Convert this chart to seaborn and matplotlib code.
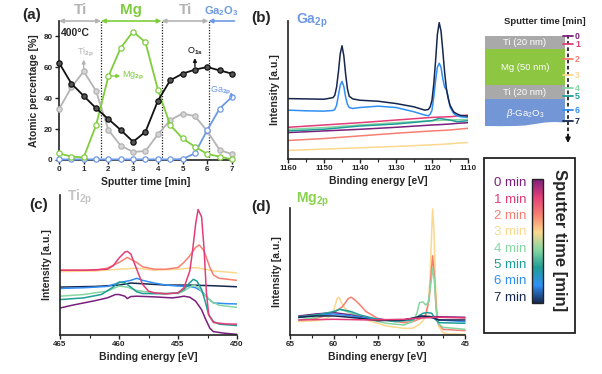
import numpy as np
import pandas as pd
import matplotlib
matplotlib.use('Agg')
import matplotlib.pyplot as plt
import seaborn as sns
from matplotlib.patches import Rectangle, Polygon
from matplotlib.colors import LinearSegmentedColormap, Normalize
import matplotlib.cm as cm
from matplotlib.ticker import MultipleLocator

sns.set_theme(style='white')
plt.rcParams['font.family'] = ['Liberation Sans', 'DejaVu Sans']
plt.rcParams['mathtext.fontset'] = 'custom'
plt.rcParams['mathtext.rm'] = 'Liberation Sans'
plt.rcParams['mathtext.bf'] = 'Liberation Sans:bold'
plt.rcParams['mathtext.it'] = 'Liberation Sans:italic'
plt.rcParams['mathtext.default'] = 'bf'

# ---------------- data: panel (a) depth profile ----------------
sputter_t = [0, 0.5, 1, 1.5, 2, 2.5, 3, 3.5, 4, 4.5, 5, 5.5, 6, 6.5, 7]
o1s_pct = [63, 49.5, 41.5, 33.5, 26.5, 19.4, 11.8, 18.3, 38.3, 51.6, 55.9, 58.5, 60.2, 58, 55.9]
ti2p_pct = [32.9, 47, 57.4, 44.7, 19.4, 9.2, 5.2, 5.8, 16.6, 25.8, 30.1, 28.4, 18.7, 6.5, 3.7]
mg2p_pct = [4.3, 2.2, 1.7, 22.6, 54.2, 72.7, 83.2, 76.1, 45.6, 22.6, 14, 8.6, 3.9, 2.2, 0.4]
ga2p_pct = [0.4, 0.4, 0.4, 0.4, 0.4, 0.4, 0.4, 0.4, 0.4, 0.4, 0.6, 4.3, 19.4, 33.3, 40.9]
layer_bounds = [0, 1.7, 4.15, 6.05]
layer_names = ['Ti', 'Mg', 'Ti']

# ---------------- data: sputter times / legend ----------------
times = ['0 min', '1 min', '2 min', '3 min', '4 min', '5 min', '6 min', '7 min']
time_colors = ['#7b1f7d', '#e23d78', '#f77f72', '#fbd88e', '#86d6a2', '#1f9d96', '#2f8ff5', '#16274f']
PALETTE = dict(zip(times, time_colors))

# ---------------- data: panel (b) Ga 2p ----------------
ga_e7 = [1160, 1155, 1150, 1147.5, 1147, 1146.5, 1146, 1145.5, 1145, 1144.5, 1144, 1143.5, 1143, 1142, 1140,
         1135, 1130, 1125, 1122, 1121, 1120.5, 1120, 1119.5, 1119, 1118.5, 1118, 1117.5, 1117, 1116.5, 1116,
         1115.5, 1115, 1114, 1113, 1112, 1110]
ga_i7 = [183, 182, 181, 186, 193, 218, 263, 318, 343, 313, 258, 213, 190, 182, 178,
         175, 168, 158, 148, 150, 158, 178, 228, 298, 378, 413, 388, 328, 263, 213,
         183, 163, 143, 136, 132, 130]
ga_e6 = [1160, 1155, 1150, 1147.5, 1147, 1146.5, 1146, 1145.5, 1145, 1144.5, 1144, 1143.5, 1143, 1142, 1140,
         1135, 1130, 1125, 1122, 1121, 1120.5, 1120, 1119.5, 1119, 1118.5, 1118, 1117.5, 1117, 1116.5, 1116,
         1115.5, 1115, 1114, 1113, 1112, 1110]
ga_i6 = [148, 146, 145, 147, 150, 163, 193, 223, 235, 220, 188, 166, 156, 153, 156,
         160, 156, 143, 133, 131, 136, 148, 188, 238, 278, 290, 278, 243, 218, 210,
         188, 158, 138, 130, 128, 126]
ga_e_flat = [1160, 1150, 1140, 1130, 1120, 1118, 1115, 1113, 1110]
ga_i0 = [80, 85, 90, 96, 103, 104, 106, 108, 110]
ga_i1 = [96, 103, 110, 118, 126, 127, 128, 130, 133]
ga_i2 = [56, 62, 70, 78, 85, 86, 88, 90, 93]
ga_i3 = [26, 30, 34, 38, 43, 44, 46, 48, 50]
ga_i4 = [90, 95, 103, 110, 116, 117, 118, 119, 120]
ga_i5 = [85, 90, 100, 106, 116, 123, 118, 113, 116]

# ---------------- data: panel (c) Ti 2p ----------------
ti_e0 = [465, 464, 462, 461, 460.3, 460, 459.5, 459.3, 459, 458.5, 457, 455.5, 455, 454.5, 454, 453.5, 453,
         452.7, 452.3, 452, 451, 450]
ti_i0 = [80, 88, 102, 110, 120, 120, 115, 108, 114, 115, 113, 110, 112, 115, 112, 100, 75, 50, 20, 10, 5, 2]
ti_e1 = [465, 463, 461, 460.5, 460, 459.5, 459.3, 459, 458.5, 458, 457.5, 457, 456, 455, 454.5, 454, 453.8,
         453.5, 453.3, 453, 452.8, 452.6, 452.4, 452, 451, 450]
ti_i1 = [192, 192, 195, 205, 228, 246, 248, 240, 195, 150, 130, 125, 122, 125, 140, 190, 240,
         330, 372, 350, 260, 130, 60, 37, 33, 32]
ti_e2 = [465, 462, 461, 460, 459.3, 458.5, 458, 457, 456, 455, 454.5, 454, 453.5, 453.2, 452.8, 452.3, 452,
         451.5, 450]
ti_i2 = [192, 192, 198, 215, 230, 215, 202, 195, 195, 200, 215, 235, 260, 267, 250, 200, 178, 168, 162]
ti_e3 = [465, 462, 460, 458.5, 457, 455, 453.5, 452, 450]
ti_i3 = [188, 190, 195, 198, 192, 195, 200, 190, 184]
ti_e4 = [465, 463, 461, 460, 459.3, 458.5, 457, 455, 454.5, 454, 453.7, 453.3, 452.8, 452.2, 451.5, 450]
ti_i4 = [115, 120, 130, 145, 142, 132, 125, 123, 130, 142, 148, 142, 120, 100, 88, 82]
ti_e5 = [465, 463, 461.5, 460.5, 460, 459.5, 459, 458.5, 458, 456, 455, 454.5, 454, 453.7, 453.4, 453,
         452.7, 452.4, 452, 451.5, 450]
ti_i5 = [105, 110, 120, 142, 157, 155, 142, 128, 123, 122, 125, 135, 155, 165, 160, 135,
         100, 60, 40, 32, 28]
ti_e6 = [465, 463, 461, 460, 459, 458.5, 458, 457, 456, 455, 454, 453.5, 453, 452.5, 452, 451, 450]
ti_i6 = [138, 140, 144, 155, 162, 168, 162, 154, 148, 145, 144, 140, 130, 110, 95, 93, 92]
ti_e7 = [465, 462, 460, 459, 458, 456, 454, 452, 450]
ti_i7 = [142, 144, 148, 154, 152, 148, 148, 146, 143]

# ---------------- data: panel (d) Mg 2p ----------------
mg_e0 = [64, 62, 60, 58, 56, 54, 52, 50, 48.5, 45]
mg_i0 = [57, 63, 67, 60, 50, 45, 45, 55, 55, 53]
mg_e1 = [64, 60, 56, 52, 50, 48, 45]
mg_i1 = [45, 47, 45, 47, 51, 53, 51]
mg_e2 = [64, 62, 61, 60, 59, 58.3, 58, 57.5, 57, 56.3, 55, 54, 52, 51, 50, 49.5, 49.1, 48.9, 48.7, 48.5,
         48.3, 48.1, 47.5, 45]
mg_i2 = [45, 50, 57, 67, 85, 110, 113, 103, 90, 70, 50, 45, 37, 40, 50, 60, 105, 175, 237, 175,
         85, 35, 17, 13]
mg_e3 = [64, 62, 61, 60.5, 60, 59.6, 59.4, 59.1, 58.7, 58, 57, 56, 54, 52, 51, 50.5, 50, 49.5, 49.2, 49,
         48.8, 48.7, 48.55, 48.4, 48.2, 48, 47.5, 47, 45]
mg_i3 = [40, 43, 47, 55, 75, 110, 113, 95, 80, 65, 53, 43, 27, 20, 20, 27, 37, 55, 95, 165,
         315, 377, 315, 165, 65, 25, 7, 3, 2]
mg_e4 = [64, 62, 61, 60, 59.3, 58.5, 57.5, 56, 54, 52, 51, 50.5, 50.2, 49.8, 49.5, 49.2, 49, 48.8, 48.7,
         48.5, 48.3, 48.1, 47.5, 45]
mg_i4 = [45, 53, 60, 70, 77, 70, 60, 47, 35, 30, 40, 65, 97, 99, 90, 97, 135, 175, 200,
         165, 75, 35, 23, 17]
mg_e5 = [64, 62, 60, 59.3, 58, 57, 55, 53, 51, 50.3, 49.8, 49.3, 48.8, 48.4, 48, 45]
mg_i5 = [55, 60, 70, 77, 70, 60, 47, 40, 45, 57, 65, 67, 65, 47, 37, 35]
mg_e6 = [64, 62, 60, 58, 56, 54, 52, 50, 49, 48, 45]
mg_i6 = [52, 60, 63, 57, 49, 45, 45, 55, 53, 45, 40]
mg_e7 = [64, 62, 60, 59, 57, 55, 52, 50.5, 50, 49, 48, 45]
mg_i7 = [53, 57, 57, 55, 50, 43, 45, 53, 57, 55, 45, 45]

# ---------------- colours ----------------
C_GRAY = '#b4b4b4'
C_GREEN = '#7fcd3e'
C_BLUE = '#6d99e6'
C_BLACK = '#111111'
SPINE = '#222222'

W, H = 602, 374
fig = plt.figure(figsize=(W / 100, H / 100), dpi=100)


def rect(x0, y0, x1, y1):
    return [x0 / W, 1 - y1 / H, (x1 - x0) / W, (y1 - y0) / H]


# overlay in pixel coordinates for schematic / legend box / titles (drawn on top)
ov = fig.add_axes([0, 0, 1, 1])
ov.set_xlim(0, W)
ov.set_ylim(H, 0)
ov.axis('off')
ov.set_zorder(10)


def style_axes(ax, labelsize=5.8):
    ax.patch.set_alpha(0)
    for s in ['top', 'right']:
        ax.spines[s].set_visible(False)
    for s in ['left', 'bottom']:
        ax.spines[s].set_color(SPINE)
        ax.spines[s].set_linewidth(1.2)
    ax.tick_params(axis='both', which='major', direction='out', length=3, width=1,
                   color=SPINE, labelsize=labelsize, pad=1.5, bottom=True, left=True)
    for lab in ax.get_xticklabels() + ax.get_yticklabels():
        lab.set_fontweight('bold')


# ================= panel (a) =================
axA = fig.add_axes(rect(59, 21, 232, 160))
line_kw = dict(lw=1.3, marker='o', markersize=3.8, markeredgewidth=0.9, clip_on=False)
sns.lineplot(x=sputter_t, y=ti2p_pct, ax=axA, color=C_GRAY, markeredgecolor=C_GRAY,
             markerfacecolor='#d6d6d6', zorder=3, **line_kw)
sns.lineplot(x=sputter_t, y=ga2p_pct, ax=axA, color=C_BLUE, markeredgecolor=C_BLUE,
             markerfacecolor='white', zorder=3, **line_kw)
sns.lineplot(x=sputter_t, y=mg2p_pct, ax=axA, color=C_GREEN, markeredgecolor=C_GREEN,
             markerfacecolor='white', zorder=4, **line_kw)
sns.lineplot(x=sputter_t, y=o1s_pct, ax=axA, color=C_BLACK, markeredgecolor=C_BLACK,
             markerfacecolor='#555555', zorder=5, **line_kw)
axA.set_xlim(0, 7)
axA.set_ylim(0, 90)
axA.set_xticks(range(8))
axA.set_yticks([0, 20, 40, 60, 80])
style_axes(axA)
axA.set_xlabel('Sputter time [min]', fontsize=7.5, fontweight='bold', labelpad=3)
axA.set_ylabel('Atomic percentage [%]', fontsize=7.5, fontweight='bold', labelpad=3)

for xb in layer_bounds[1:]:
    axA.axvline(xb, ls=(0, (1, 1.2)), color='#222222', lw=0.9, zorder=1)

arrow_cols = [C_GRAY, C_GREEN, C_GRAY]
for k in range(3):
    axA.annotate('', xy=(layer_bounds[k + 1], 90), xytext=(layer_bounds[k], 90),
                 arrowprops=dict(arrowstyle='<|-|>', color=arrow_cols[k], lw=1.2,
                                 mutation_scale=6, shrinkA=0, shrinkB=0),
                 annotation_clip=False)
    axA.text((layer_bounds[k] + layer_bounds[k + 1]) / 2 + (0.02 if k != 1 else 0), 96.8,
             layer_names[k], color=arrow_cols[k], fontsize=11, fontweight='bold',
             ha='center', va='center', clip_on=False)
axA.annotate('', xy=(6.05, 90), xytext=(7.1, 90),
             arrowprops=dict(arrowstyle='-|>', color=C_BLUE, lw=1.2, mutation_scale=6,
                             shrinkA=0, shrinkB=0), annotation_clip=False)
axA.text(6.55, 96.3, r'Ga$_2$O$_3$', color=C_BLUE, fontsize=8, fontweight='bold',
         ha='center', va='center', clip_on=False)

axA.text(0.08, 82, '400°C', fontsize=7.5, fontweight='bold', ha='left', va='center')
# series annotations
axA.annotate('', xy=(1.0, 65), xytext=(1.0, 59),
             arrowprops=dict(arrowstyle='-|>', color=C_GRAY, lw=1, mutation_scale=5, shrinkA=0, shrinkB=0))
axA.text(1.05, 69.5, r'Ti$_{2p}$', color=C_GRAY, fontsize=6.5, ha='center', va='center')
axA.annotate('', xy=(2.48, 54.4), xytext=(2.1, 54.4),
             arrowprops=dict(arrowstyle='-|>', color=C_GREEN, lw=1, mutation_scale=5, shrinkA=0, shrinkB=0))
axA.text(2.55, 54.4, r'Mg$_{2p}$', color=C_GREEN, fontsize=6.5, ha='left', va='center')
axA.annotate('', xy=(5.5, 66), xytext=(5.5, 60.5),
             arrowprops=dict(arrowstyle='-|>', color=C_BLACK, lw=1, mutation_scale=5, shrinkA=0, shrinkB=0))
axA.text(5.5, 70.2, r'O$_{1s}$', color=C_BLACK, fontsize=6.5, ha='center', va='center')
axA.text(6.55, 45, r'Ga$_{2p}$', color=C_BLUE, fontsize=6.5, ha='center', va='center')
axA.annotate('', xy=(6.97, 44), xytext=(6.97, 40),
             arrowprops=dict(arrowstyle='-|>', color=C_BLUE, lw=1, mutation_scale=4, shrinkA=0, shrinkB=0),
             annotation_clip=False)


# ================= spectra helper =================
def draw_spectra(ax, curves, order, xlim, ylim, major, minor):
    frames = []
    for t in order:
        e, inten = curves[t]
        frames.append(pd.DataFrame({'E': e, 'I': inten, 't': t}))
    df = pd.concat(frames, ignore_index=True)
    sns.lineplot(data=df, x='E', y='I', hue='t', hue_order=order, palette=PALETTE,
                 estimator=None, sort=True, legend=False, lw=1.1, ax=ax)
    ax.set_xlim(*xlim)
    ax.set_ylim(*ylim)
    ax.xaxis.set_major_locator(MultipleLocator(major))
    ax.xaxis.set_minor_locator(MultipleLocator(minor))
    ax.set_yticks([])
    style_axes(ax)
    ax.tick_params(axis='x', which='minor', direction='out', length=2, width=0.8, color=SPINE, bottom=True)
    ax.set_xlabel('Binding energy [eV]', fontsize=7.5, fontweight='bold', labelpad=3)
    ax.set_ylabel('Intensity [a.u.]', fontsize=7.5, fontweight='bold', labelpad=6)


# ================= panel (b) =================
axB = fig.add_axes(rect(288, 21, 468, 159))
curvesB = {
    '0 min': (ga_e_flat, ga_i0), '1 min': (ga_e_flat, ga_i1), '2 min': (ga_e_flat, ga_i2),
    '3 min': (ga_e_flat, ga_i3), '4 min': (ga_e_flat, ga_i4), '5 min': (ga_e_flat, ga_i5),
    '6 min': (ga_e6, ga_i6), '7 min': (ga_e7, ga_i7),
}
draw_spectra(axB, curvesB, ['3 min', '2 min', '0 min', '4 min', '5 min', '1 min', '6 min', '7 min'],
             (1160, 1110), (0, 418), 10, 5)

# ================= panel (c) =================
axC = fig.add_axes(rect(60, 195, 237, 335))
curvesC = {
    '0 min': (ti_e0, ti_i0), '1 min': (ti_e1, ti_i1), '2 min': (ti_e2, ti_i2), '3 min': (ti_e3, ti_i3),
    '4 min': (ti_e4, ti_i4), '5 min': (ti_e5, ti_i5), '6 min': (ti_e6, ti_i6), '7 min': (ti_e7, ti_i7),
}
draw_spectra(axC, curvesC, ['3 min', '2 min', '7 min', '6 min', '4 min', '0 min', '5 min', '1 min'],
             (465, 450), (0, 415), 5, 2.5)

# ================= panel (d) =================
axD = fig.add_axes(rect(290, 208, 465, 335))
curvesD = {
    '0 min': (mg_e0, mg_i0), '1 min': (mg_e1, mg_i1), '2 min': (mg_e2, mg_i2), '3 min': (mg_e3, mg_i3),
    '4 min': (mg_e4, mg_i4), '5 min': (mg_e5, mg_i5), '6 min': (mg_e6, mg_i6), '7 min': (mg_e7, mg_i7),
}
draw_spectra(axD, curvesD, ['3 min', '2 min', '4 min', '0 min', '6 min', '5 min', '7 min', '1 min'],
             (65, 45), (0, 380), 5, 2.5)
for ln in axD.lines:
    ln.set_clip_on(False)

# ================= panel labels and titles =================
for lab, (px, py) in {'(a)': (32, 15), '(b)': (261, 18), '(c)': (39, 205), '(d)': (261, 207)}.items():
    ov.text(px, py, lab, fontsize=11, fontweight='bold', ha='center', va='center')
ov.text(312, 21, r'Ga$_{2p}$', color=C_BLUE, fontsize=10, fontweight='bold', ha='center', va='center')
ov.text(80, 197, r'Ti$_{2p}$', color='#c4c4c4', fontsize=10, fontweight='bold', ha='center', va='center')
ov.text(313, 200, r'Mg$_{2p}$', color='#8ad24e', fontsize=10, fontweight='bold', ha='center', va='center')

# ================= schematic =================
ov.text(545, 21, 'Sputter time [min]', fontsize=6.8, fontweight='bold', ha='center', va='center')
ov.add_patch(Rectangle((485, 36), 80, 13, facecolor='#a9a9a9', edgecolor='none'))
ov.add_patch(Rectangle((485, 49), 80, 36, facecolor='#8dc641', edgecolor='none'))
ov.add_patch(Rectangle((485, 85), 80, 14, facecolor='#a9a9a9', edgecolor='none'))
ov.add_patch(Polygon([(485, 99), (565, 99), (565, 122.5), (555, 122), (545, 122.5), (535, 124),
                      (525, 125.5), (515, 126), (500, 126.2), (485, 126)],
                     closed=True, facecolor='#7397d6', edgecolor='none'))
ov.text(525, 42.5, 'Ti (20 nm)', color='white', fontsize=6.8, ha='center', va='center')
ov.text(525, 67, 'Mg (50 nm)', color='white', fontsize=6.8, ha='center', va='center')
ov.text(525, 92, 'Ti (20 nm)', color='white', fontsize=6.8, ha='center', va='center')
ov.text(525, 113, r'$\mathit{\beta}$-Ga$_\mathrm{2}$O$_\mathrm{3}$', color='white', fontsize=6.8,
        ha='center', va='center')
ov.plot([568, 568], [35, 137], ls=(0, (2.2, 1.5)), color='#111111', lw=1.2)
ov.annotate('', xy=(568, 143), xytext=(568, 135),
            arrowprops=dict(arrowstyle='-|>', color='#111111', lw=1.2, mutation_scale=7,
                            shrinkA=0, shrinkB=0))
tick_y = [36, 44, 59, 75, 88, 96, 110, 121]
for k, ty in enumerate(tick_y):
    ov.plot([563, 573], [ty, ty], color=time_colors[k], lw=1.3)
    ov.text(575, ty, str(k), color=time_colors[k], fontsize=6.3, fontweight='bold', ha='left', va='center')

# ================= legend box with colorbar =================
ov.add_patch(Rectangle((484, 158), 91, 175, facecolor='white', edgecolor='#222222', lw=1.3))
for k, t in enumerate(times):
    ov.text(510, 183.3 + 16.35 * k, t, color=time_colors[k], fontsize=9.5, ha='center', va='center')
cmap = LinearSegmentedColormap.from_list('sputter', time_colors)
cax = fig.add_axes(rect(532, 179, 543, 303))
cax.set_zorder(20)
cb = fig.colorbar(cm.ScalarMappable(norm=Normalize(0, 7), cmap=cmap), cax=cax)
cb.set_ticks([])
cb.outline.set_edgecolor('#222222')
cb.outline.set_linewidth(1.0)
cax.invert_yaxis()
ov.text(559, 240, 'Sputter time [min]', fontsize=12, fontweight='bold', rotation=-90,
        ha='center', va='center')

fig.savefig('out.png', dpi=100)
